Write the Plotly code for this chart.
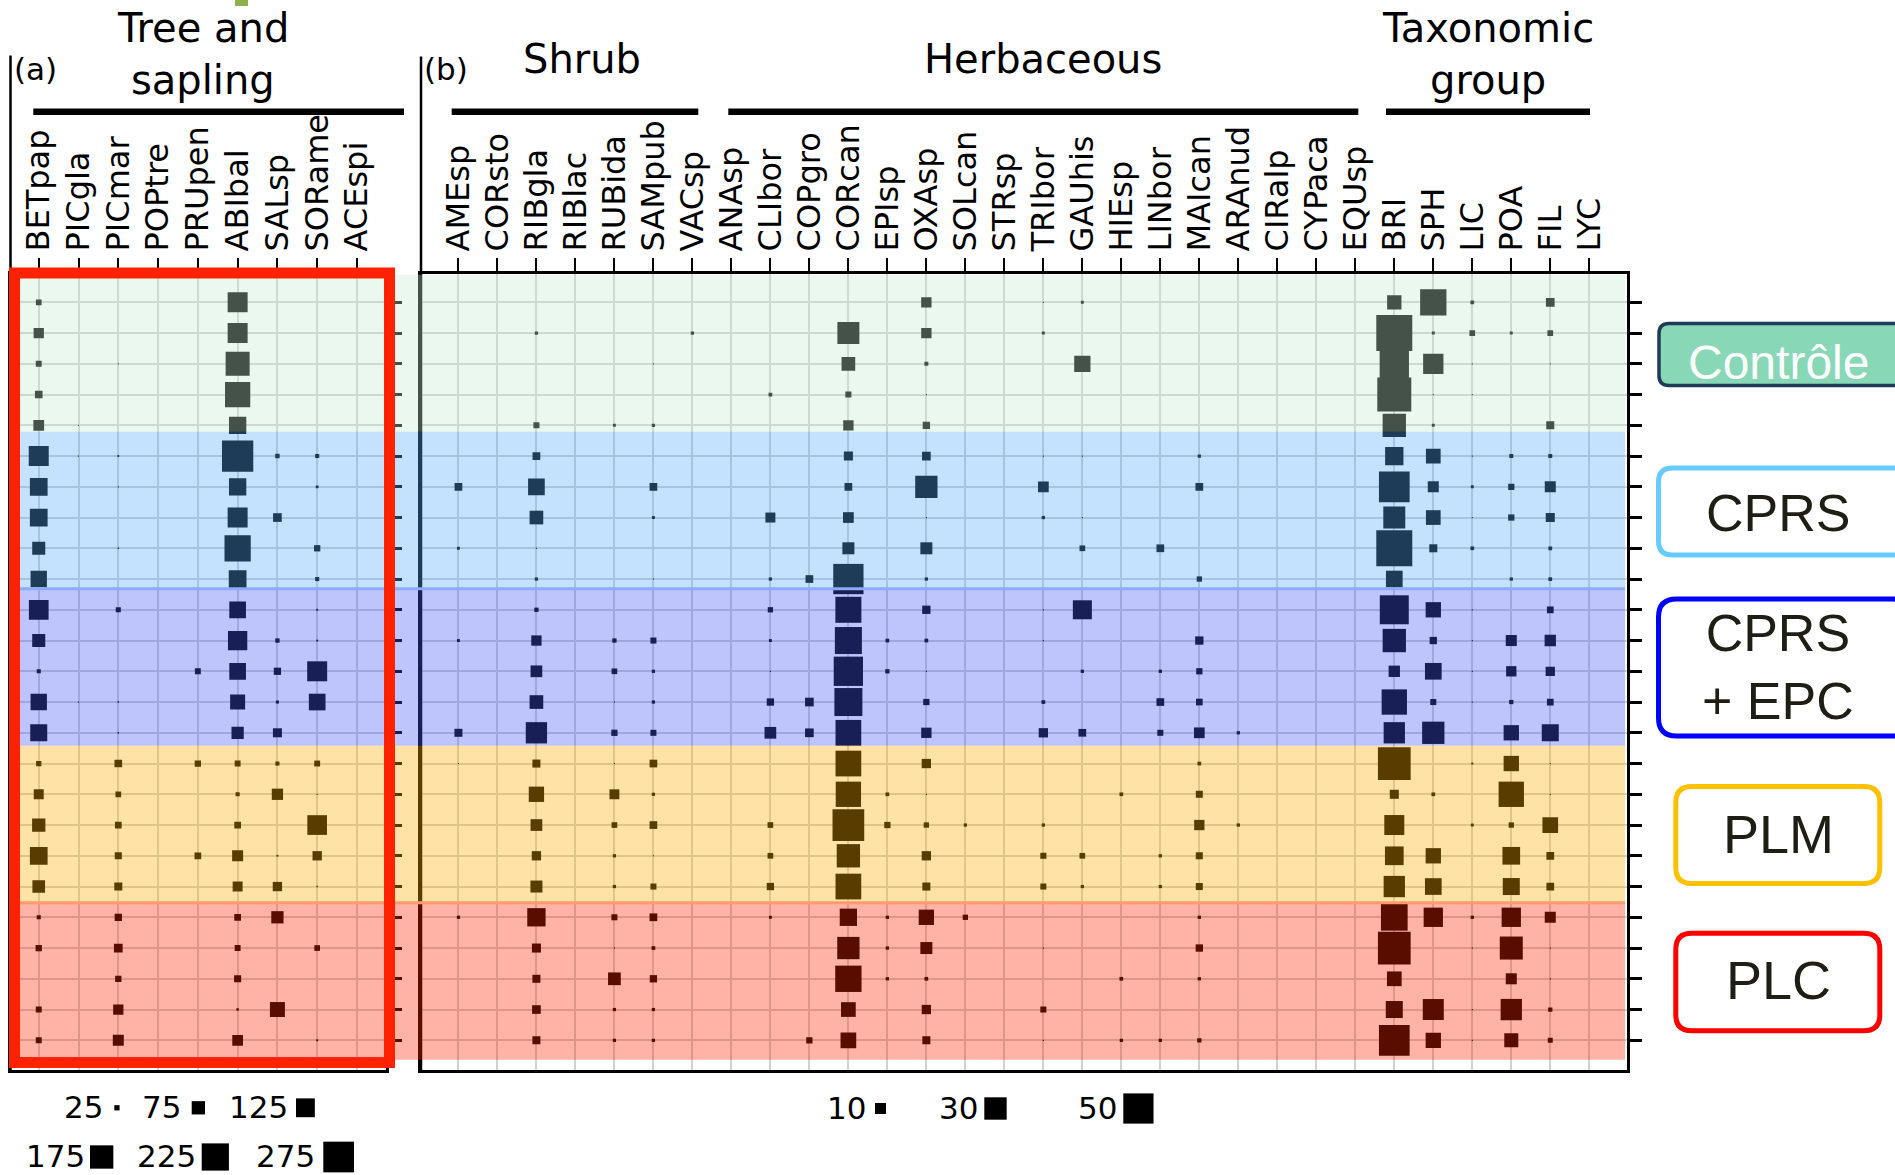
import math
import plotly.graph_objects as go

W, H = 1895, 1175

# ---- data: cover per plot (rows = 5 treatments x 5 plots, top to bottom) ----
treatments = ["Contrôle", "CPRS", "CPRS<br>+ EPC", "PLM", "PLC"]

# (a) tree and sapling density
BETpap = [27, 53, 28, 37, 56, 137, 114, 114, 73, 101, 134, 73, 20, 101, 107, 25, 51, 75, 114, 70, 20, 30, 0, 28, 28]
PICgla = [0, 0, 0, 0, 9, 10, 0, 0, 0, 0, 0, 0, 0, 9, 0, 0, 0, 0, 0, 0, 0, 0, 0, 0, 0]
PICmar = [0, 0, 9, 0, 0, 12, 9, 0, 11, 0, 24, 0, 0, 11, 11, 37, 27, 32, 34, 39, 35, 43, 30, 53, 58]
POPtre = [0, 0, 0, 0, 0, 0, 0, 0, 0, 0, 0, 0, 0, 0, 0, 0, 0, 0, 0, 0, 0, 0, 0, 0, 0]
PRUpen = [0, 0, 0, 0, 0, 0, 0, 0, 0, 0, 0, 0, 28, 0, 0, 30, 0, 0, 32, 0, 0, 0, 0, 0, 0]
ABIbal = [137, 137, 183, 199, 110, 284, 110, 137, 212, 114, 104, 130, 104, 89, 67, 28, 20, 32, 58, 51, 32, 28, 34, 14, 56]
SALsp = [0, 0, 0, 0, 0, 21, 0, 43, 0, 0, 0, 21, 35, 16, 45, 20, 60, 0, 12, 47, 67, 0, 0, 89, 0]
SORame = [0, 0, 0, 0, 0, 20, 15, 0, 30, 20, 12, 12, 137, 104, 0, 28, 9, 134, 47, 11, 0, 27, 0, 0, 12]
ACEspi = [0, 0, 0, 0, 0, 0, 0, 0, 0, 0, 0, 0, 0, 0, 0, 0, 0, 0, 0, 0, 0, 0, 0, 0, 0]

tree_names = ["BETpap", "PICgla", "PICmar", "POPtre", "PRUpen", "ABIbal", "SALsp", "SORame", "ACEspi"]
tree_values = [BETpap, PICgla, PICmar, POPtre, PRUpen, ABIbal, SALsp, SORame, ACEspi]

# (b) percent cover
AMEsp = [0, 0, 0, 0, 0, 0, 6.2, 0, 2.3, 0, 0, 2.3, 0, 0, 6.5, 1.2, 0, 0, 0, 0, 2.5, 0, 0, 0, 0]
CORsto = [0, 0, 0, 0, 0, 0, 0, 0, 0, 0, 0, 0, 0, 0, 0, 0, 0, 0, 0, 0, 0, 0, 0, 0, 0]
RIBgla = [0, 2.5, 0, 0, 4.6, 6.2, 18.6, 13.7, 1.2, 2.5, 3.2, 9.1, 10.9, 13.7, 27.6, 6.5, 16.3, 10.9, 7.9, 11.3, 21.6, 7.6, 6.5, 7.2, 6.5]
RIBlac = [0, 0, 0, 0, 0, 0, 0, 0, 0, 0, 0, 0, 0, 0, 0, 0, 0, 0, 0, 0, 0, 0, 0, 0, 0]
RUBida = [0, 0, 0, 0, 2.3, 0, 0, 0, 0, 0, 0, 3.2, 4.3, 1.2, 4.8, 1.2, 8.6, 4.3, 2.5, 2.5, 4.6, 1.2, 12.3, 2.5, 2.5]
SAMpub = [0, 0, 1.2, 0, 2.5, 0, 6.2, 2.3, 0, 1.2, 0, 4.6, 2.5, 2.5, 4.6, 6.2, 2.5, 6.2, 1.2, 4.6, 6.2, 2.8, 5.8, 2.5, 2.5]
VACsp = [0, 2.5, 0, 0, 0, 0, 0, 0, 0, 0, 0, 0, 0, 0, 0, 0, 0, 0, 0, 0, 0, 0, 0, 0, 0]
ANAsp = [0, 0, 0, 0, 0, 0, 0, 0, 0, 0, 0, 0, 0, 0, 0, 0, 0, 0, 0, 0, 0, 0, 0, 0, 0]
CLIbor = [0, 0, 0, 2.8, 0, 0, 0, 8.7, 0, 2.5, 4.0, 2.3, 1.2, 5.8, 10.9, 0, 0, 4.3, 4.3, 5.8, 2.3, 0, 0, 0, 0]
COPgro = [0, 0, 0, 0, 0, 0, 0, 0, 0, 6.2, 0, 0, 0, 7.2, 7.2, 0, 0, 0, 0, 0, 0, 0, 0, 0, 4.8]
CORcan = [0, 29.1, 13.7, 4.6, 9.1, 7.6, 6.2, 9.6, 11.3, 50.2, 38.6, 41.2, 47.4, 43.8, 37.9, 37.9, 36.9, 54.4, 32.1, 37.9, 19.7, 29.8, 39.4, 15.3, 16.9]
EPIsp = [0, 0, 0, 0, 0, 0, 0, 0, 0, 0, 0, 2.8, 3.2, 0, 0, 0, 2.8, 4.8, 0, 0, 2.5, 2.5, 2.5, 0, 0]
OXAsp = [9.1, 9.1, 3.0, 1.2, 5.8, 7.2, 29.8, 1.2, 11.3, 2.5, 6.8, 2.8, 1.2, 4.8, 9.1, 7.9, 1.2, 4.0, 7.9, 6.5, 16.3, 11.3, 2.8, 7.9, 6.5]
SOLcan = [0, 0, 0, 0, 0, 0, 0, 0, 0, 0, 0, 0, 0, 0, 0, 0, 0, 2.5, 0, 0, 4.0, 0, 0, 0, 0]
STRsp = [0, 0, 0, 0, 0, 0, 0, 0, 0, 0, 0, 0, 0, 0, 0, 0, 0, 0, 0, 0, 0, 0, 0, 0, 0]
TRIbor = [1.0, 2.3, 0, 0, 0, 1.2, 9.6, 2.5, 0, 0, 1.2, 1.2, 0, 2.8, 7.9, 0, 0, 2.5, 4.6, 4.6, 0, 1.2, 0, 4.6, 1.2]
GAUhis = [2.3, 0, 17.9, 0, 0, 1.2, 0, 1.2, 4.3, 0, 22.9, 0, 2.5, 0, 6.2, 0, 0, 0, 4.3, 2.5, 0, 0, 0, 0, 0]
HIEsp = [0, 0, 0, 0, 0, 0, 0, 0, 0, 0, 0, 0, 0, 0, 0, 0, 2.8, 0, 0, 0, 0, 0, 2.8, 0, 2.5]
LINbor = [0, 0, 0, 0, 0, 0, 0, 0, 6.2, 0, 0, 0, 2.5, 6.2, 4.6, 0, 0, 0, 2.5, 2.5, 0, 0, 0, 0, 2.5]
MAIcan = [0, 0, 0, 0, 0, 2.5, 6.2, 0, 0, 4.0, 0, 6.8, 4.8, 5.2, 9.6, 2.8, 5.5, 9.1, 5.5, 5.5, 2.5, 5.8, 2.5, 0, 3.2]
ARAnud = [0, 0, 0, 0, 0, 0, 0, 0, 0, 0, 0, 0, 0, 0, 2.5, 0, 0, 2.5, 0, 0, 0, 0, 0, 0, 0]
CIRalp = [0, 0, 0, 0, 0, 0, 0, 0, 0, 0, 0, 0, 0, 0, 0, 0, 0, 0, 0, 0, 0, 0, 0, 0, 0]
CYPaca = [0, 0, 0, 0, 0, 0, 0, 0, 0, 0, 0, 0, 0, 0, 0, 0, 0, 0, 0, 0, 0, 0, 0, 0, 0]
EQUsp = [0, 0, 0, 0, 0, 0, 0, 0, 0, 0, 0, 0, 0, 0, 0, 0, 0, 0, 0, 0, 0, 0, 0, 0, 0]
BRI = [14.7, 68, 47.4, 61.5, 32.1, 21.6, 51.4, 29.1, 68, 18.6, 46.5, 32.1, 10.4, 36.9, 27.6, 57.5, 7.6, 24.9, 22.3, 27.6, 40.4, 57.5, 15.3, 19.2, 51.4]
SPH = [39.4, 2.3, 25.5, 1.2, 2.3, 15.3, 10.0, 15.3, 6.5, 0, 16.3, 5.8, 18.6, 4.6, 29.8, 0, 2.8, 0, 16.3, 18.6, 23.5, 0, 0, 27.0, 16.3]
LIC = [2.8, 4.3, 1.2, 1.2, 0, 1.2, 2.3, 1.2, 2.8, 0, 1.2, 1.2, 1.2, 1.2, 0, 1.8, 0, 2.3, 0, 0, 2.5, 1.2, 0, 1.2, 1.2]
POA = [0, 2.3, 0, 0, 0, 3.0, 4.8, 4.8, 0, 2.5, 0, 10.0, 9.1, 3.2, 16.3, 16.3, 36.9, 4.0, 20.4, 19.2, 23.5, 31.4, 10.0, 27.6, 14.2]
FIL = [7.2, 4.3, 1.2, 0, 6.5, 3.0, 10.0, 7.6, 2.8, 2.8, 5.2, 10.4, 7.9, 5.2, 19.2, 1.2, 1.2, 16.9, 6.2, 6.2, 10.0, 1.2, 1.2, 3.2, 3.7]
LYC = [0, 0, 0, 0, 0, 0, 0, 0, 0, 0, 0, 0, 0, 0, 0, 0, 0, 0, 0, 0, 0, 0, 0, 0, 0]

herb_names = ["AMEsp", "CORsto", "RIBgla", "RIBlac", "RUBida", "SAMpub", "VACsp", "ANAsp", "CLIbor",
              "COPgro", "CORcan", "EPIsp", "OXAsp", "SOLcan", "STRsp", "TRIbor", "GAUhis", "HIEsp",
              "LINbor", "MAIcan", "ARAnud", "CIRalp", "CYPaca", "EQUsp", "BRI", "SPH", "LIC", "POA",
              "FIL", "LYC"]
herb_values = [AMEsp, CORsto, RIBgla, RIBlac, RUBida, SAMpub, VACsp, ANAsp, CLIbor, COPgro, CORcan,
               EPIsp, OXAsp, SOLcan, STRsp, TRIbor, GAUhis, HIEsp, LINbor, MAIcan, ARAnud, CIRalp,
               CYPaca, EQUsp, BRI, SPH, LIC, POA, FIL, LYC]

legend_a = [25, 75, 125, 175, 225, 275]
legend_b = [10, 30, 50]

band_colors = ["#c2ead3", "#56abf9", "#4559f6", "#ffab00", "#ff2200"]
FONT = "DejaVu Sans"


def px_x(x):
    return x / W


def px_y(y):
    return 1 - y / H


def size_a(v):
    return max(2.197 * math.sqrt(v) - 5.73, 1.2)


def size_b(v):
    return max(4.91 * math.sqrt(v) - 4.5, 1.2)


def points(names, values, size_fn):
    xs, ys, ss = [], [], []
    for name, col in zip(names, values):
        for row, v in enumerate(col):
            if v > 0:
                xs.append(name)
                ys.append(row)
                ss.append(size_fn(v))
    return xs, ys, ss


fig = go.Figure()

xa, ya, sa = points(tree_names, tree_values, size_a)
fig.add_trace(go.Scatter(x=xa, y=ya, mode="markers", xaxis="x", yaxis="y",
                         marker=dict(symbol="square", size=sa, color="black", opacity=1,
                                     line=dict(width=0)),
                         showlegend=False, hoverinfo="skip"))
xb, yb, sb = points(herb_names, herb_values, size_b)
fig.add_trace(go.Scatter(x=xb, y=yb, mode="markers", xaxis="x2", yaxis="y2",
                         marker=dict(symbol="square", size=sb, color="black", opacity=1,
                                     line=dict(width=0)),
                         showlegend=False, hoverinfo="skip"))

y_dom = [px_y(1070.3), px_y(273.6)]
y_rng = [24.976, -0.933]

xcommon = dict(side="top", type="category", tickmode="array", tickangle=-90, ticks="outside",
               ticklen=13, tickwidth=2, tickcolor="black", showline=True, linecolor="black",
               linewidth=2.5, mirror=True, showgrid=True, gridcolor="#d2d2d2", gridwidth=2,
               zeroline=False, tickfont=dict(family=FONT, size=32, color="black"))
ycommon = dict(side="right", tickmode="array", tickvals=list(range(25)), showticklabels=False,
               ticks="outside", ticklen=13, tickwidth=2.5, tickcolor="black", showline=True,
               linecolor="black", linewidth=2.5, mirror=True, showgrid=True, gridcolor="#d2d2d2",
               gridwidth=2, zeroline=False, range=y_rng, domain=y_dom)

fig.update_layout(
    width=W, height=H,
    margin=dict(l=0, r=0, t=0, b=0),
    paper_bgcolor="white", plot_bgcolor="white",
    xaxis=dict(xcommon, domain=[px_x(10.5), px_x(386)], range=[-0.71, 8.73],
               categoryorder="array", categoryarray=tree_names,
               tickvals=tree_names, ticktext=tree_names, anchor="y"),
    yaxis=dict(ycommon, anchor="x"),
    xaxis2=dict(xcommon, domain=[px_x(421), px_x(1626.7)], range=[-0.96, 29.96],
                categoryorder="array", categoryarray=herb_names,
                tickvals=herb_names, ticktext=herb_names, anchor="y2"),
    yaxis2=dict(ycommon, anchor="x2"),
)

shapes = []
# axis lines extending up to the panel letters
for lx, ly in [(10.5, 55.5), (421, 56.6)]:
    shapes.append(dict(type="line", xref="paper", yref="paper", x0=px_x(lx), x1=px_x(lx),
                       y0=px_y(ly), y1=px_y(1070.3), line=dict(color="black", width=2.5), layer="above"))

# treatment bands drawn over the marks
for k, col in enumerate(band_colors):
    y0 = 274.8 + 157 * k
    shapes.append(dict(type="rect", xref="paper", yref="paper", x0=px_x(12), x1=px_x(1625),
                       y0=px_y(y0), y1=px_y(y0 + 157), fillcolor=col, opacity=0.35,
                       line=dict(width=0), layer="above"))
for yy, col in [(274.8 + 157 * 2, "#8faaf8"), (274.8 + 157 * 4, "#fb9a70")]:
    shapes.append(dict(type="line", xref="paper", yref="paper", x0=px_x(12), x1=px_x(1625),
                       y0=px_y(yy), y1=px_y(yy), line=dict(color=col, width=3), layer="above"))

# red frame round panel (a)
shapes.append(dict(type="rect", xref="paper", yref="paper", x0=px_x(14.5), x1=px_x(389.5),
                   y0=px_y(273), y1=px_y(1062.5), line=dict(color="#ff2200", width=11),
                   fillcolor="rgba(0,0,0,0)", layer="above"))

# group bars
for x0, x1 in [(33.3, 404), (451.7, 698.3), (728.3, 1358.3), (1386, 1590)]:
    shapes.append(dict(type="line", xref="paper", yref="paper", x0=px_x(x0), x1=px_x(x1),
                       y0=px_y(111.7), y1=px_y(111.7), line=dict(color="black", width=6.5)))

# small green mark at the top
shapes.append(dict(type="rect", xref="paper", yref="paper", x0=px_x(235), x1=px_x(248),
                   y0=px_y(0), y1=px_y(6), fillcolor="#8cb04c", line=dict(width=0)))

annotations = []


def text(s, x, y, size, family=FONT, color="black", anchor="center"):
    annotations.append(dict(text=s, x=px_x(x), y=px_y(y), xref="paper", yref="paper",
                            xanchor=anchor, yanchor="middle", showarrow=False,
                            font=dict(family=family, size=size, color=color)))


text("Tree and", 203.3, 28, 40)
text("sapling", 203.3, 80, 40)
text("Shrub", 582, 59.3, 40)
text("Herbaceous", 1042.7, 59.3, 40)
text("Taxonomic", 1488, 28, 40)
text("group", 1488, 80, 40)
text("(a)", 35, 68.9, 31)
text("(b)", 445.8, 68.9, 31)

# size legends
legend_a_pos = [(105, 114.3, 1106.8), (183.3, 191.7, 1106.8), (290, 296, 1106.8),
                (87.3, 90, 1156), (198.3, 201.7, 1156), (316.7, 323.3, 1156)]
for v, (tx, sx, cy) in zip(legend_a, legend_a_pos):
    w = size_a(v)
    text(str(v), tx, cy, 31, anchor="right")
    shapes.append(dict(type="rect", xref="paper", yref="paper", x0=px_x(sx), x1=px_x(sx + w),
                       y0=px_y(cy - w / 2 + 1), y1=px_y(cy + w / 2 + 1), fillcolor="black",
                       line=dict(width=0)))
legend_b_pos = [(868.3, 875, 1107.5), (980, 984.3, 1107.5), (1119, 1123.3, 1107.5)]
for v, (tx, sx, cy) in zip(legend_b, legend_b_pos):
    w = size_b(v)
    text(str(v), tx, cy, 31, anchor="right")
    shapes.append(dict(type="rect", xref="paper", yref="paper", x0=px_x(sx), x1=px_x(sx + w),
                       y0=px_y(cy - w / 2 + 1), y1=px_y(cy + w / 2 + 1), fillcolor="black",
                       line=dict(width=0)))


def rounded_box(x0, y0, x1, y1, r):
    return (f"M {px_x(x0 + r)},{px_y(y0)} L {px_x(x1 - r)},{px_y(y0)} "
            f"Q {px_x(x1)},{px_y(y0)} {px_x(x1)},{px_y(y0 + r)} L {px_x(x1)},{px_y(y1 - r)} "
            f"Q {px_x(x1)},{px_y(y1)} {px_x(x1 - r)},{px_y(y1)} L {px_x(x0 + r)},{px_y(y1)} "
            f"Q {px_x(x0)},{px_y(y1)} {px_x(x0)},{px_y(y1 - r)} L {px_x(x0)},{px_y(y0 + r)} "
            f"Q {px_x(x0)},{px_y(y0)} {px_x(x0 + r)},{px_y(y0)} Z")


boxes = [
    # (x0, y0, x1, y1, radius, border, width, fill, text colour, font size, text y)
    (1659, 323.5, 1910, 385.5, 10, "#1f3b57", 3.5, "#88d8b8", "white", 48, 362),
    (1658.5, 468, 1910, 555, 14, "#66ccff", 5, "white", "#1e1e14", 52, 512.5),
    (1658.5, 599, 1910, 736, 18, "#0000ff", 5, "white", "#1e1e14", 52, 667),
    (1675.8, 786.5, 1879.8, 883.5, 16, "#ffc000", 5, "white", "#1e1e14", 54, 834),
    (1675.8, 933.2, 1879.8, 1030.8, 16, "#ff0000", 5, "white", "#1e1e14", 54, 980.3),
]
for (x0, y0, x1, y1, r, lc, lw, fc, tc, fs, ty), label in zip(boxes, treatments):
    shapes.append(dict(type="path", xref="paper", yref="paper", path=rounded_box(x0, y0, x1, y1, r),
                       line=dict(color=lc, width=lw), fillcolor=fc))
    text(label, 1778, ty, fs, family="Liberation Sans", color=tc)

fig.update_layout(shapes=shapes, annotations=annotations)

fig.write_html("out.html", config={"displayModeBar": False},
               post_script="document.body.style.margin='0';")
